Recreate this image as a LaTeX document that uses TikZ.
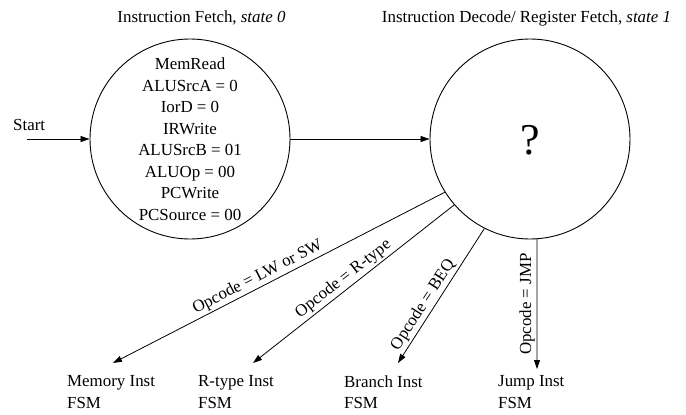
\documentclass[tikz,border=0pt]{standalone}
\usepackage{fontspec}
\setmainfont{Liberation Serif}
\usetikzlibrary{arrows.meta}
\begin{document}
\begin{tikzpicture}[x=1pt,y=-1pt,
  every node/.style={font=\fontsize{16.9}{21.5}\selectfont},
  state/.style={draw,circle,line width=0.9pt,minimum size=200pt,inner sep=0pt,align=center},
  tr/.style={line width=0.8pt,-{Triangle[length=9pt,width=6pt]}},
  lbl/.style={sloped,above,inner sep=2pt},
  fsm/.style={anchor=north west,align=left,inner sep=0pt}]
\useasboundingbox (0,0) rectangle (686,415);

% states
\node[state] (s0) at (190,139) {MemRead\\ALUSrcA = 0\\IorD = 0\\IRWrite\\ALUSrcB = 01\\ALUOp = 00\\PCWrite\\PCSource = 00};
\node[state] (s1) at (530,139) {};
\node[font=\fontsize{44}{50}\selectfont] (q) at (530,140) {?};

% titles
\node[anchor=base] (t0) at (201.5,22.7) {Instruction Fetch, \textit{state 0}};
\node[anchor=base] (t1) at (526.5,22.7) {Instruction Decode/ Register Fetch, \textit{state 1}};

% start transition
\node[anchor=base west,inner sep=0pt] (start) at (13,130) {Start};
\coordinate (in) at (27,139);
\draw[tr] (in) -- (s0.west);
\draw[tr] (s0.east) -- (s1.west);

% target FSMs
\node[fsm] (mem) at (67,375.5) {Memory Inst\\FSM};
\node[fsm] (rt)  at (198,375.5) {R-type Inst\\FSM};
\node[fsm] (br)  at (344,375.5) {Branch Inst\\FSM};
\node[fsm] (jp)  at (498,375.5) {Jump Inst\\FSM};

\coordinate (memIn) at (113,363);
\coordinate (rtIn)  at (253,363);
\coordinate (brIn)  at (398,363);
\coordinate (jpIn)  at (537,369);

% decode transitions
\draw[tr] (s1.212.9) -- node[lbl,pos=0.55] {Opcode = LW or SW} (memIn);
\draw[tr] (s1.221.9) -- node[lbl,pos=0.52] {Opcode = R-type} (rtIn);
\draw[tr] (s1.243.2) -- node[lbl,pos=0.61] {Opcode = BEQ} (brIn);
\draw[tr] (s1.274) -- node[pos=0.5,rotate=90,anchor=south,inner sep=2pt] {Opcode = JMP} (jpIn);
\end{tikzpicture}
\end{document}
